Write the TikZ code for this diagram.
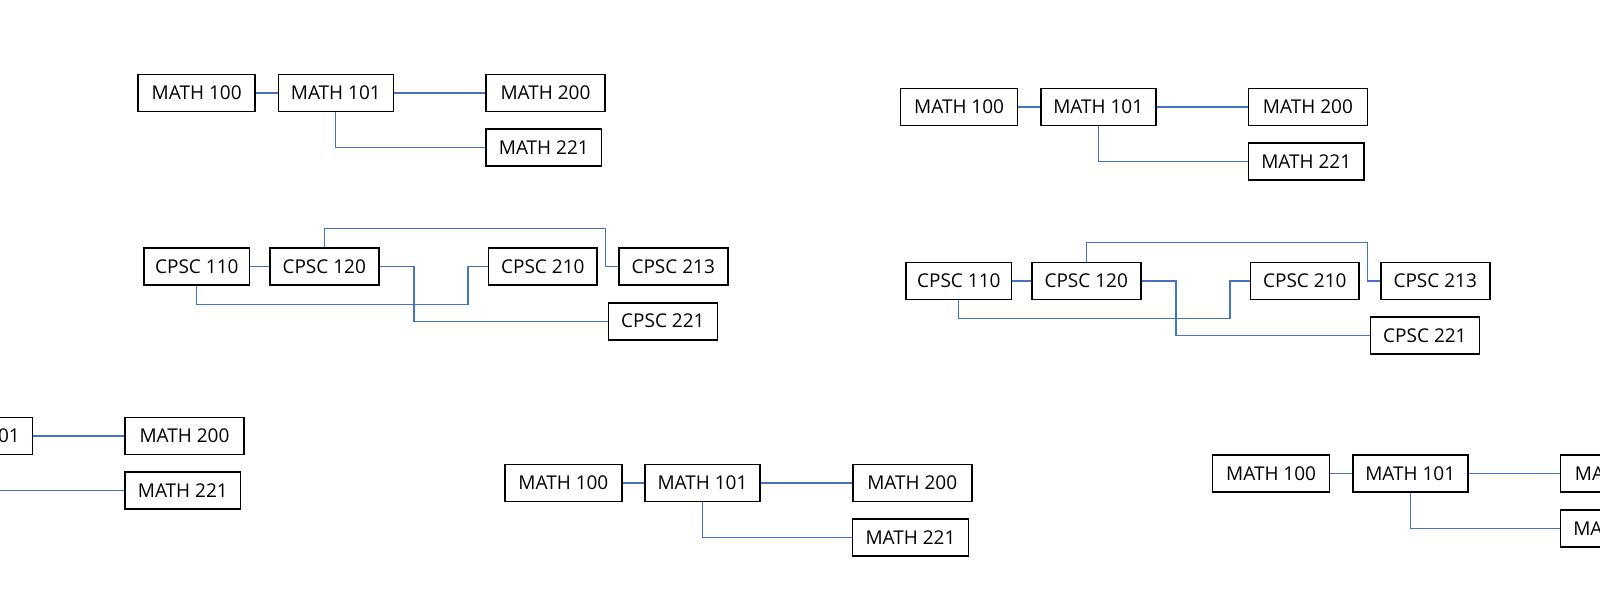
\documentclass[tikz,border=0pt]{standalone}
\usepackage{fontspec}
\setmainfont{Open Sans}
\definecolor{colorlink}{HTML}{4472C4}
\tikzset{course/.style={draw, line width=1.6pt, minimum height=37pt, inner sep=0pt,
        font=\fontsize{19}{22}\selectfont}}
\tikzset{link/.style={draw=colorlink, line width=1.3pt}}
\tikzset{math tree/.pic={
        \node [course, minimum width=117pt] (-m100) at (0,0) {MATH 100};
        \node [course, minimum width=115pt] (-m101) at (139.1,0) {MATH 101};
        \node [course, minimum width=119pt] (-m200) at (348.8,0) {MATH 200};
        \node [course, minimum width=115.7pt] (-m221) at (347.1,54.7) {MATH 221};
        \path [link] (-m100) -- (-m101);
        \path [link] (-m101) -- (-m200);
        \path [link] (-m101.south) |- (-m221.west);
    }
}
\tikzset{cpsc tree/.pic={
        \node [course, minimum width=105.2pt] (-c110) at (0,0) {CPSC 110};
        \node [course, minimum width=109pt] (-c120) at (127.4,0) {CPSC 120};
        \node [course, minimum width=108.3pt] (-c210) at (346,0) {CPSC 210};
        \node [course, minimum width=109pt] (-c213) at (476.4,0) {CPSC 213};
        \node [course, minimum width=109pt] (-c221) at (466.1,54.5) {CPSC 221};
        \path [link] (-c110) -- (-c120);
        \path [link] (-c120.north) -- ++(0,-19) -- ++(281.5,0) |- (-c213.west);
        \path [link] (-c120.east) -- ++(34.5,0) |- (-c221.west);
        \path [link] (-c110.south) -- ++(0,18.3) -- ++(271.1,0) |- (-c210.west);
    }
}

\begin{document}
\begin{tikzpicture}[x=1pt, y=-1pt]
        \useasboundingbox (0,0) rectangle (1600,600);
        \fill [white] (0,0) rectangle (1600,600);
        \clip (0,0) rectangle (1600,600);

        \foreach \g/\x/\y in {A/196.7/93, F/959.1/107, C/-164.3/436, D/563.4/483, E/1271.1/473.7} {
            \pic (\g) at (\x,\y) {math tree};
        }

        \foreach \g/\x/\y in {B/196.8/266.7, G/958.8/281.1} {
            \pic (\g) at (\x,\y) {cpsc tree};
        }
    \end{tikzpicture}
\end{document}
